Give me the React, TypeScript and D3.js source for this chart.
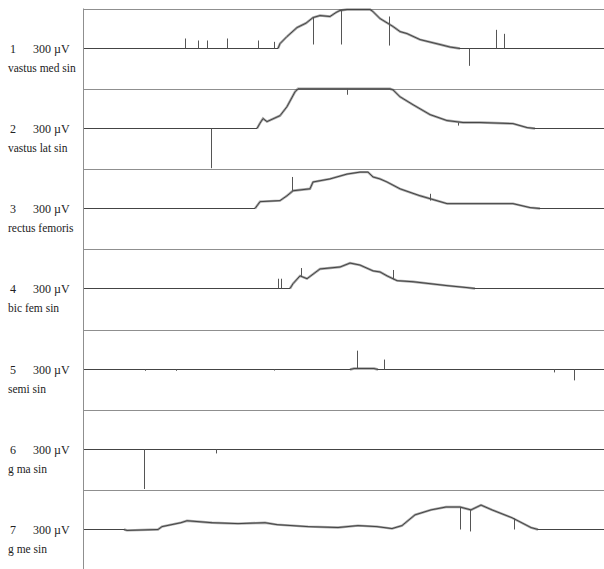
import React from "react";
import * as d3 from "d3";

// channel labels
const channelNumbers = ["1", "2", "3", "4", "5", "6", "7"];
const channelNames = [
  "vastus med sin",
  "vastus lat sin",
  "rectus femoris",
  "bic fem sin",
  "semi sin",
  "g ma sin",
  "g me sin",
];
const scaleLabel = "300 µV";

// envelope points: [time, µV]
const env1: [number, number][] = [
  [0, 0], [194, 0], [196, 37], [203, 90], [213, 157], [222, 190], [229, 232], [236, 247], [246, 240],
  [252, 270], [256, 285], [263, 292], [286, 292], [289, 277], [296, 225], [309, 165], [316, 127],
  [323, 112], [336, 67], [356, 30], [366, 11], [376, 0], [520, 0],
];
const env2: [number, number][] = [
  [0, 0], [173, 0], [176, 40], [179, 75], [183, 52], [196, 97], [203, 165], [211, 277], [214, 300],
  [306, 300], [309, 292], [316, 240], [329, 180], [346, 105], [363, 60], [379, 45], [396, 45],
  [429, 37], [443, 7], [451, 0], [520, 0],
];
const env3: [number, number][] = [
  [0, 0], [171, 0], [176, 52], [196, 60], [203, 97], [209, 135], [226, 150], [229, 202], [246, 225],
  [263, 262], [276, 277], [284, 277], [289, 240], [296, 225], [303, 202], [316, 150], [336, 97],
  [363, 37], [396, 37], [429, 37], [446, 7], [456, 0], [520, 0],
];
const env4: [number, number][] = [
  [0, 0], [206, 0], [209, 37], [216, 97], [223, 75], [236, 150], [256, 165], [266, 195], [276, 180],
  [289, 135], [296, 127], [303, 97], [313, 60], [329, 52], [363, 22], [383, 7], [391, 0], [520, 0],
];
const env5: [number, number][] = [
  [0, 0], [266, 0], [270, 7], [290, 7], [294, 0], [520, 0],
];
const env6: [number, number][] = [
  [0, 0], [520, 0],
];
const env7: [number, number][] = [
  [0, 0], [40, 0], [43, -7], [74, 0], [78, 22], [97, 52], [103, 67], [128, 52], [154, 45], [181, 52],
  [193, 37], [224, 22], [254, 15], [274, 30], [293, 22], [308, 7], [318, 30], [331, 112], [347, 150],
  [362, 172], [376, 172], [387, 150], [397, 187], [408, 150], [428, 90], [447, 15], [454, 0], [520, 0],
];

// spikes: [time, from µV, to µV]
const spk1: [number, number, number][] = [
  [101, 0, 75], [114, 0, 60], [123, 0, 60], [143, 0, 75], [174, 0, 60], [190, 0, 50],
  [229, 232, 30], [257, 285, 30], [305, 240, 22], [385, 0, -130], [412, 0, 140], [420, 0, 110],
];
const spk2: [number, number, number][] = [
  [127, 0, -300], [263, 300, 255], [374, 45, 22],
];
const spk3: [number, number, number][] = [
  [208, 135, 240], [346, 60, 112],
];
const spk4: [number, number, number][] = [
  [194, 0, 75], [197, 0, 75], [217, 97, 157], [309, 70, 142],
];
const spk5: [number, number, number][] = [
  [273, 7, 142], [300, 0, 75], [470, 0, -22], [490, 0, -82], [61, 0, -10], [92, 0, -10], [190, 0, -8],
];
const spk6: [number, number, number][] = [
  [60, 0, -300], [132, 0, -30],
];
const spk7: [number, number, number][] = [
  [376, 172, 0], [386, 150, -15], [430, 85, 0],
];

const envelopes = [env1, env2, env3, env4, env5, env6, env7];
const spikes = [spk1, spk2, spk3, spk4, spk5, spk6, spk7];

const W = 604;
const H = 569;
const AXIS_X = 83.5;
const TOP = 8.5;
const BAND = 80.3;

export default function App() {
  const x = d3.scaleLinear().domain([0, 520]).range([84, 604]);
  const bandTop = (i: number) => TOP + i * BAND;

  return (
    <svg
      width={W}
      height={H}
      style={{ position: "absolute", left: 0, top: 0, background: "#fff" }}
      fontFamily="'Liberation Serif', 'Times New Roman', serif"
    >
      <rect x={0} y={0} width={W} height={H} fill="#fff" />
      {d3.range(7).map((i) => (
        <line
          key={"sep" + i}
          x1={AXIS_X}
          x2={W}
          y1={Math.round(bandTop(i)) + 0.5}
          y2={Math.round(bandTop(i)) + 0.5}
          stroke="#8f8f8f"
          strokeWidth={1}
        />
      ))}
      <line x1={AXIS_X} x2={AXIS_X} y1={TOP} y2={H} stroke="#8f8f8f" strokeWidth={1} />
      {envelopes.map((env, i) => {
        const top = bandTop(i);
        const base = Math.round(top + 39) + 0.5;
        const y = d3.scaleLinear().domain([0, 300]).range([base, top]);
        const line = d3
          .line<[number, number]>()
          .x((d) => x(d[0]))
          .y((d) => y(d[1]));
        const halo = d3
          .line<[number, number]>()
          .defined((d, k, data) =>
            d[1] !== 0 ||
            (k > 0 && data[k - 1][1] !== 0) ||
            (k < data.length - 1 && data[k + 1][1] !== 0)
          )
          .x((d) => x(d[0]))
          .y((d) => y(d[1]));
        return (
          <g key={"ch" + i}>
            <path d={halo(env) || ""} fill="none" stroke="#333" strokeWidth={2.4} strokeOpacity={0.45} />
            <path d={line(env) || ""} fill="none" stroke="#444" strokeWidth={1} />
            {spikes[i].map((s, j) => (
              <line
                key={j}
                x1={Math.round(x(s[0])) + 0.5}
                x2={Math.round(x(s[0])) + 0.5}
                y1={y(s[1])}
                y2={y(s[2])}
                stroke="#555"
                strokeWidth={1}
              />
            ))}
            <text x={10} y={base + 4} fontSize={12} fill="#222">
              {channelNumbers[i]}
            </text>
            <text x={33} y={base + 4} fontSize={12} fill="#222">
              {scaleLabel}
            </text>
            <text x={8} y={base + 23} fontSize={11.5} fill="#222">
              {channelNames[i]}
            </text>
          </g>
        );
      })}
    </svg>
  );
}
